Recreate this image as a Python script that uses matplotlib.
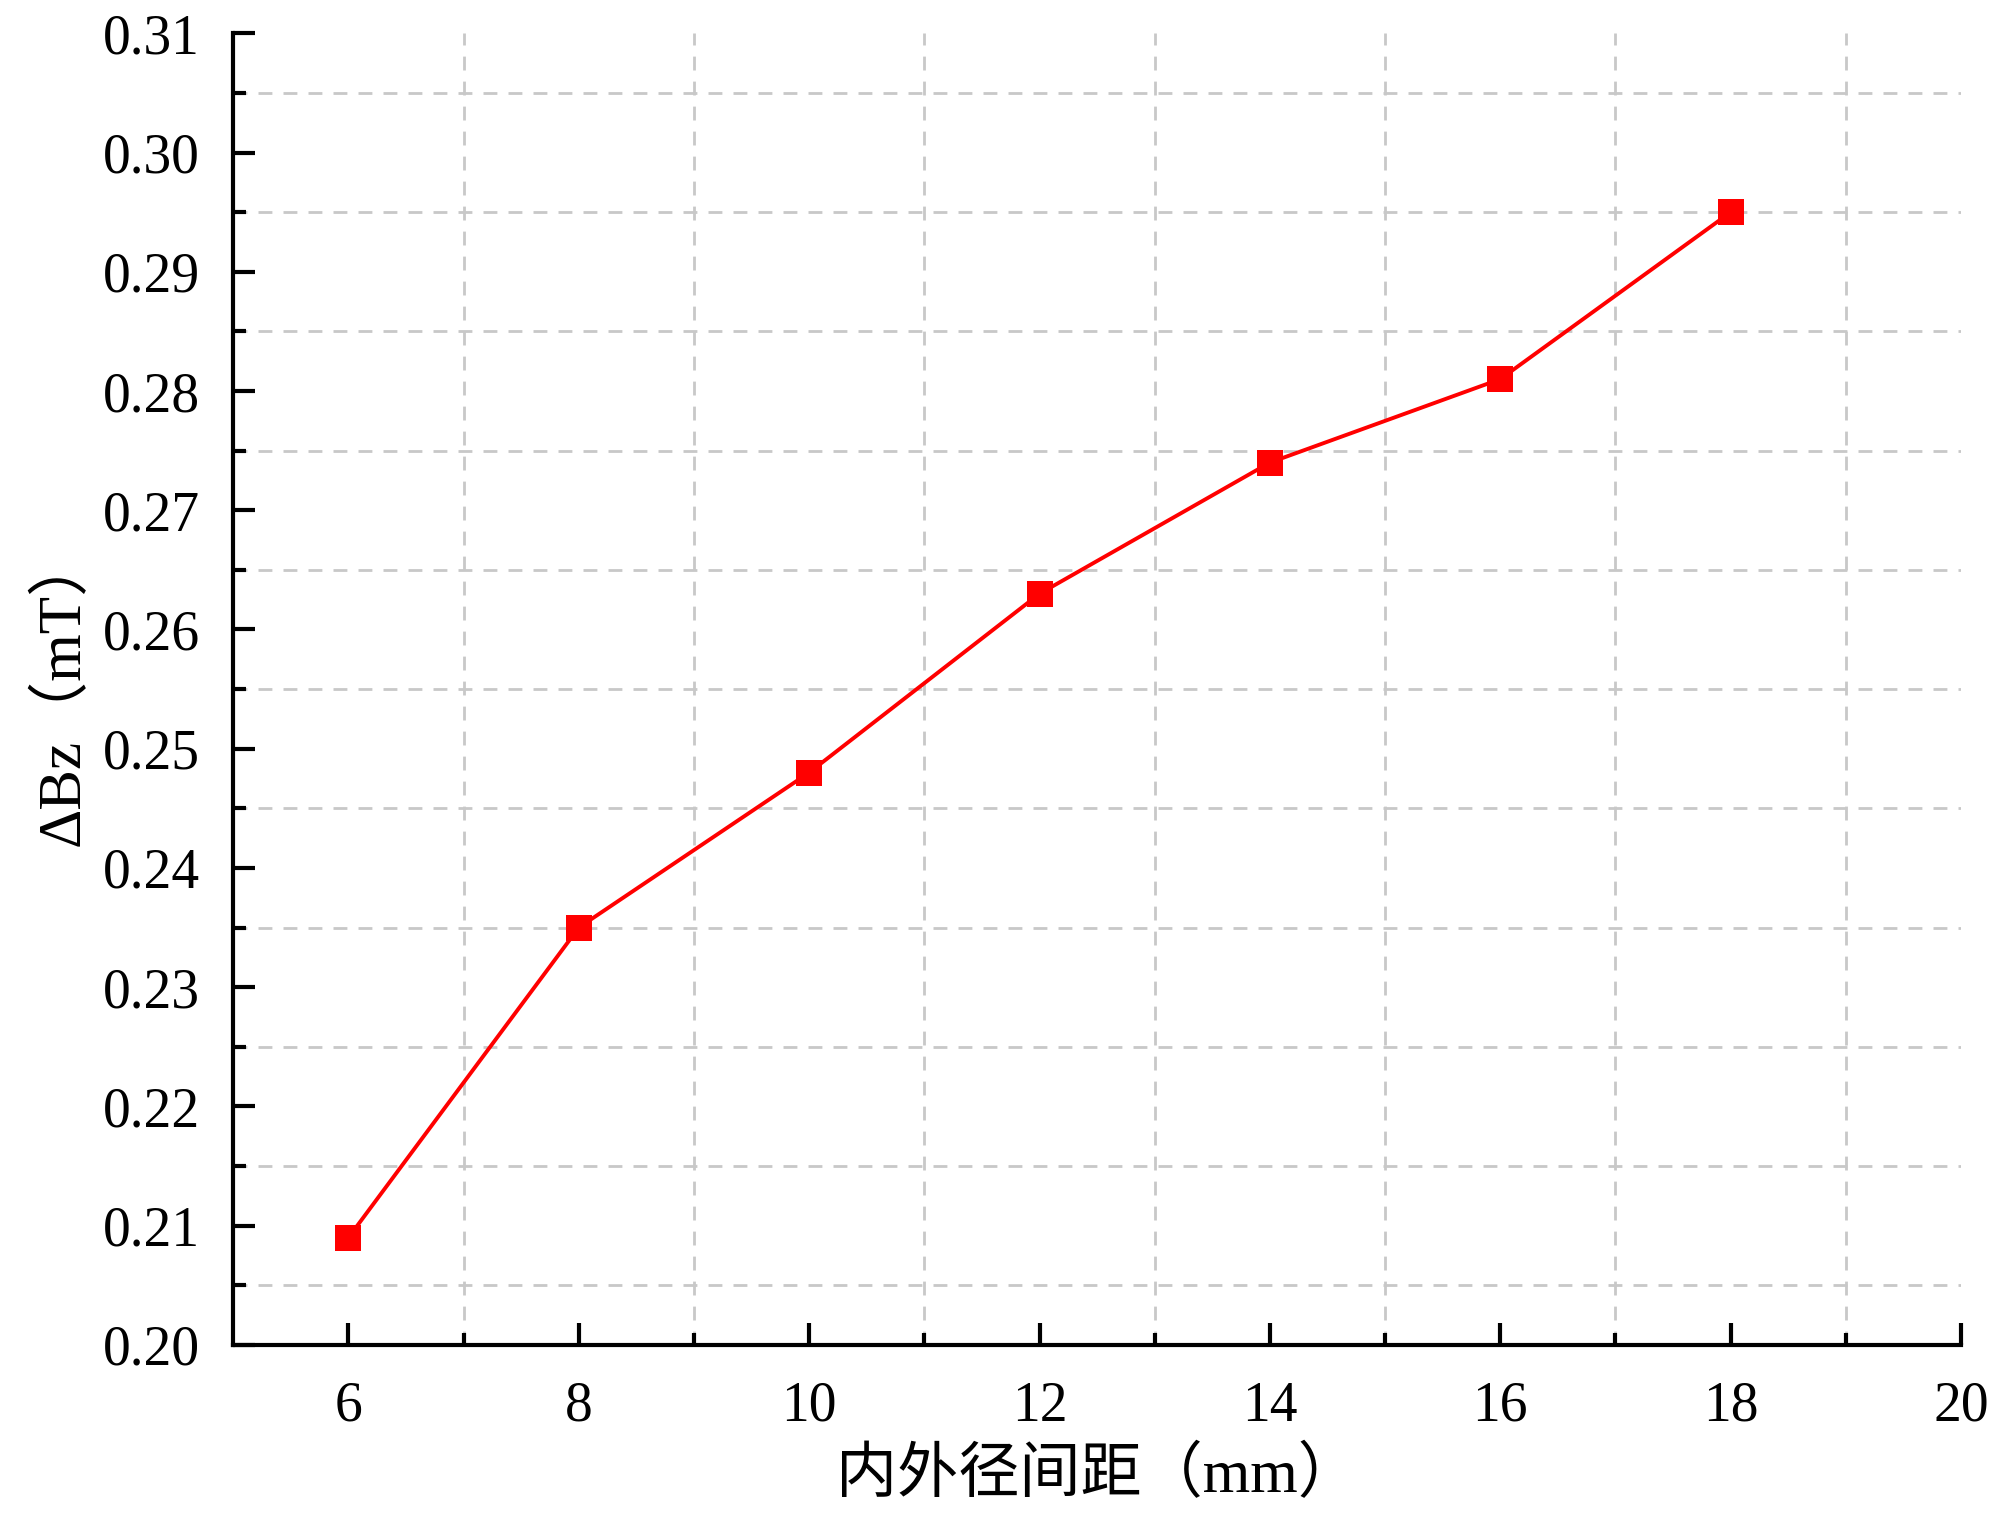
import matplotlib
matplotlib.use("Agg")
import matplotlib.pyplot as plt
import numpy as np

# data
gap_mm = [6, 8, 10, 12, 14, 16, 18]
delta_bz = [0.209, 0.235, 0.248, 0.263, 0.274, 0.281, 0.295]

plt.rcParams['font.family'] = ['Liberation Serif', 'Noto Sans CJK SC', 'DejaVu Sans']

fig = plt.figure(figsize=(19.99, 15.31), dpi=100)
ax = fig.add_axes([0.1167, 0.1216, 0.8643, 0.8566])

ax.plot(gap_mm, delta_bz, color='#ff0000', linewidth=2.8,
        marker='s', markersize=19, markeredgewidth=0, zorder=3)

ax.set_xlim(5, 20)
ax.set_ylim(0.20, 0.31)
ax.set_xticks(np.arange(6, 21, 2))
ax.set_xticks(np.arange(7, 20, 2), minor=True)
ax.set_yticks(np.arange(0.20, 0.3101, 0.01))
ax.set_yticks(np.arange(0.205, 0.31, 0.01), minor=True)
ax.set_yticklabels([f"{v:.2f}" for v in np.arange(0.20, 0.3101, 0.01)])

ax.grid(which='minor', color='#c8c8c8', linestyle=(0, (5, 4)), linewidth=2.0)
ax.grid(which='major', visible=False)

for side in ['top', 'right']:
    ax.spines[side].set_visible(False)
for side in ['left', 'bottom']:
    ax.spines[side].set_linewidth(3)

ax.tick_params(which='major', direction='in', length=16, width=3, labelsize=40)
ax.tick_params(axis='y', which='major', pad=24)
ax.tick_params(axis='x', which='major', pad=26)
ax.tick_params(which='minor', direction='in', length=9, width=3)

ax.set_xlabel("内外径间距（mm）", fontsize=44, labelpad=10)
ax.set_ylabel("ΔBz（mT）", fontsize=44, labelpad=8)

fig.savefig("out.png", dpi=100)
